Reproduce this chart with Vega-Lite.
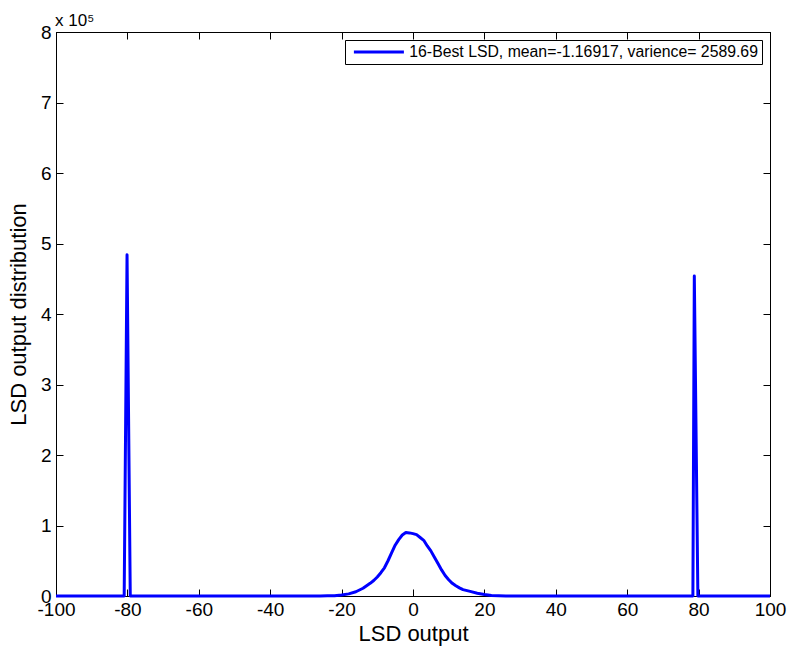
{
  "$schema": "https://vega.github.io/schema/vega-lite/v6.json",
  "width": 714,
  "height": 564,
  "autosize": {"type": "none"},
  "padding": {"left": 56, "top": 32, "right": 18, "bottom": 57},
  "background": "white",
  "config": {
    "font": "Liberation Sans",
    "view": {"stroke": "black", "strokeWidth": 1},
    "axis": {
      "grid": false,
      "domainColor": "black",
      "tickColor": "black",
      "labelColor": "black",
      "titleColor": "black",
      "labelFontSize": 19,
      "titleFontSize": 22,
      "titleFontWeight": "normal",
      "labelFlush": false,
      "labelOverlap": false,
      "tickSize": -7
    }
  },
  "title": {
    "text": "x 10⁵",
    "anchor": "start",
    "frame": "group",
    "fontSize": 17,
    "fontWeight": "normal",
    "color": "black",
    "offset": 5,
    "dx": -1,
    "dy": 12
  },
  "data": {
    "values": [
      {"x": -100, "y": 0},
      {"x": -80.9, "y": 0},
      {"x": -80.1, "y": 484000},
      {"x": -79.2, "y": 0},
      {"x": -26, "y": 0},
      {"x": -24, "y": 200},
      {"x": -22, "y": 500},
      {"x": -20, "y": 1500},
      {"x": -18, "y": 3000},
      {"x": -16, "y": 6000},
      {"x": -14, "y": 11000},
      {"x": -12, "y": 18000},
      {"x": -11, "y": 22000},
      {"x": -10, "y": 27000},
      {"x": -9, "y": 33000},
      {"x": -8, "y": 40000},
      {"x": -7, "y": 50000},
      {"x": -6, "y": 61000},
      {"x": -5, "y": 72000},
      {"x": -4, "y": 80000},
      {"x": -3, "y": 86500},
      {"x": -2, "y": 90000},
      {"x": -1, "y": 89500},
      {"x": 0, "y": 88500},
      {"x": 1, "y": 87000},
      {"x": 2, "y": 83000},
      {"x": 3, "y": 79000},
      {"x": 4, "y": 71000},
      {"x": 5, "y": 64000},
      {"x": 6, "y": 55000},
      {"x": 7, "y": 46000},
      {"x": 8, "y": 37000},
      {"x": 9, "y": 29000},
      {"x": 10, "y": 23000},
      {"x": 11, "y": 18000},
      {"x": 12, "y": 14500},
      {"x": 13, "y": 11500},
      {"x": 14, "y": 9000},
      {"x": 16, "y": 6500},
      {"x": 18, "y": 4000},
      {"x": 20, "y": 2000},
      {"x": 22, "y": 800},
      {"x": 24, "y": 300},
      {"x": 26, "y": 0},
      {"x": 78.4, "y": 0},
      {"x": 78.8, "y": 454000},
      {"x": 79.8, "y": 0},
      {"x": 100, "y": 0}
    ]
  },
  "layer": [
    {
      "mark": {"type": "line", "strokeWidth": 3, "strokeJoin": "round"},
      "encoding": {
        "x": {
          "field": "x",
          "type": "quantitative",
          "scale": {"domain": [-100, 100], "nice": false, "zero": false},
          "axis": {
            "orient": "bottom",
            "title": "LSD output",
            "values": [-100, -80, -60, -40, -20, 0, 20, 40, 60, 80, 100],
            "labelExpr": "'' + datum.value",
            "labelPadding": 11,
            "titlePadding": 4
          }
        },
        "y": {
          "field": "y",
          "type": "quantitative",
          "scale": {"domain": [0, 800000], "nice": false},
          "axis": {
            "orient": "left",
            "title": "LSD output distribution",
            "values": [0, 100000, 200000, 300000, 400000, 500000, 600000, 700000, 800000],
            "labelExpr": "'' + round(datum.value / 100000)",
            "labelPadding": 12,
            "titlePadding": 10
          }
        },
        "color": {
          "datum": "16-Best LSD, mean=-1.16917, varience= 2589.69",
          "type": "nominal",
          "scale": {"range": ["#0000ff"]},
          "legend": {
            "title": null,
            "orient": "top-right",
            "offset": 8,
            "strokeColor": "black",
            "fillColor": "white",
            "padding": 4,
            "labelFontSize": 15.8,
            "labelLimit": 600,
            "labelColor": "black",
            "symbolType": "M-5,0H5",
            "symbolSize": 100,
            "symbolStrokeWidth": 3,
            "symbolOffset": 22,
            "labelOffset": 22.5
          }
        }
      }
    },
    {
      "mark": {"type": "point", "opacity": 0},
      "encoding": {
        "x": {
          "field": "x",
          "type": "quantitative",
          "axis": {
            "orient": "top",
            "title": null,
            "labels": false,
            "values": [-100, -80, -60, -40, -20, 0, 20, 40, 60, 80, 100]
          }
        },
        "y": {
          "field": "y",
          "type": "quantitative",
          "axis": {
            "orient": "right",
            "title": null,
            "labels": false,
            "values": [0, 100000, 200000, 300000, 400000, 500000, 600000, 700000, 800000]
          }
        }
      }
    }
  ],
  "resolve": {"axis": {"x": "independent", "y": "independent"}}
}
